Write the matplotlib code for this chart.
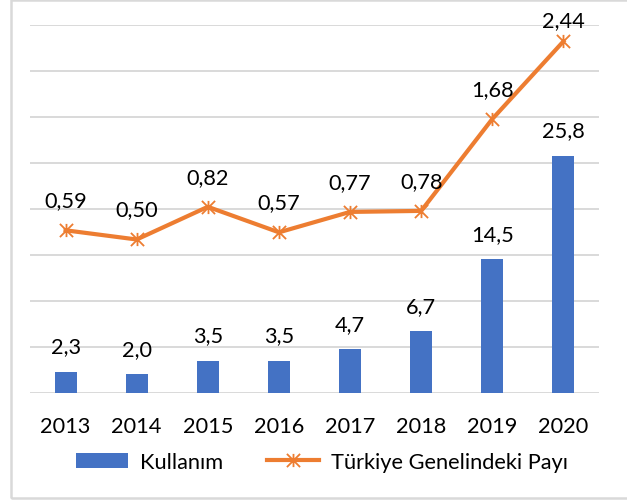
import matplotlib
matplotlib.use("Agg")
import matplotlib.pyplot as plt
from matplotlib.path import Path
from matplotlib.patches import Rectangle, Patch
from matplotlib.lines import Line2D

years = ["2013", "2014", "2015", "2016", "2017", "2018", "2019", "2020"]
kullanim = [2.3, 2.0, 3.5, 3.5, 4.7, 6.7, 14.5, 25.8]
pay = [0.59, 0.50, 0.82, 0.57, 0.77, 0.78, 1.68, 2.44]
series_names = ["Kullanım", "Türkiye Genelindeki Payı"]

BLUE = "#4472C4"
ORANGE = "#ED7D31"
GRID = "#D9D9D9"
FONT = ["Lato", "DejaVu Sans"]
FS = 15.7

plt.rcParams["font.family"] = FONT

fig = plt.figure(figsize=(6.27, 5.02), dpi=100)
ax = fig.add_axes([30 / 627, 1 - 393.7 / 502, 569 / 627, (393.7 - 26) / 502])

x = list(range(len(years)))
ax.bar(x, kullanim, width=0.31, color=BLUE, zorder=2)
ax.set_ylim(0, 40)
ax.set_xlim(-0.5, len(years) - 0.5)
ax.set_yticks(range(0, 41, 5))
ax.yaxis.grid(True, color=GRID, linewidth=1.4, zorder=0)
ax.set_axisbelow(True)
ax.set_xticks(x)
ax.set_xticklabels(years)
for s in ax.spines.values():
    s.set_visible(False)

for xi, v in zip(x, kullanim):
    ax.annotate(f"{v:.1f}".replace(".", ","), (xi, v), xytext=(0, 18),
                textcoords="offset points", ha="center", va="center", fontsize=FS)

ast = Path([(0, -1), (0, 1), (-1, -1), (1, 1), (-1, 1), (1, -1)],
           [Path.MOVETO, Path.LINETO, Path.MOVETO, Path.LINETO, Path.MOVETO, Path.LINETO])

ax2 = ax.twinx()
ax2.set_ylim(-1, 2.6)
ax2.plot(x, pay, color=ORANGE, linewidth=3, marker=ast, markersize=9.5,
         markerfacecolor="none", markeredgecolor=ORANGE, markeredgewidth=1.3, zorder=3)
ax2.axis("off")
for i, (xi, v) in enumerate(zip(x, pay)):
    off = 15.5 if i == len(pay) - 1 else 21.6
    ax2.annotate(f"{v:.2f}".replace(".", ","), (xi, v), xytext=(0, off),
                 textcoords="offset points", ha="center", va="center", fontsize=FS)

ax.tick_params(axis="y", left=False, right=False, labelleft=False, labelright=False)
ax.tick_params(axis="x", bottom=False, labelsize=FS, pad=13)

handles = [Patch(facecolor=BLUE, edgecolor="none"),
           Line2D([], [], color=ORANGE, linewidth=3, marker=ast, markersize=9.5,
                  markerfacecolor="none", markeredgecolor=ORANGE, markeredgewidth=1.3)]
fig.legend(handles, series_names, loc="center", bbox_to_anchor=(322 / 627, 1 - 463 / 502),
           ncol=2, frameon=False, fontsize=FS, handlelength=2.4, handleheight=0.7,
           handletextpad=0.55, columnspacing=2.0)

fig.add_artist(Rectangle((11 / 627, 1 - 499 / 502), 1.0, (499 - 1) / 502,
                         transform=fig.transFigure, fill=False, edgecolor=GRID,
                         linewidth=1.8, clip_on=False))

fig.savefig("out.png", dpi=100)
